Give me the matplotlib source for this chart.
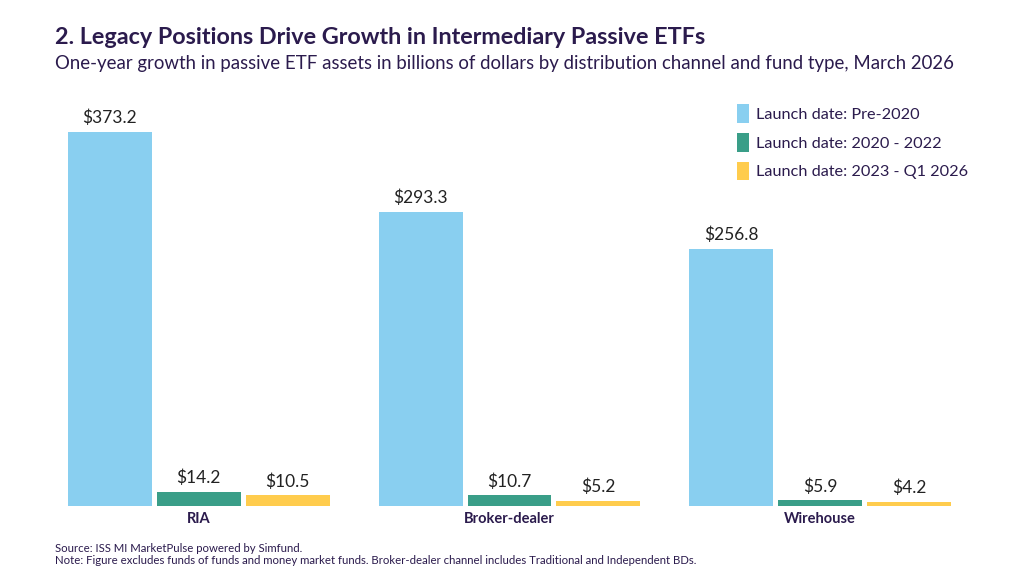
import numpy as np
import matplotlib.pyplot as plt
from matplotlib.patches import Patch

channels = ["RIA", "Broker-dealer", "Wirehouse"]
series_names = ["Launch date: Pre-2020", "Launch date: 2020 - 2022", "Launch date: 2023 - Q1 2026"]
pre_2020 = [373.2, 293.3, 256.8]
y2020_2022 = [14.2, 10.7, 5.9]
y2023_q1_2026 = [10.5, 5.2, 4.2]

colors = ["#89CFF0", "#3A9E88", "#FFCC4D"]
text_color = "#2B1B4D"

plt.rcParams['font.family'] = ['Lato', 'DejaVu Sans']

fig = plt.figure(figsize=(10.24, 5.76), dpi=100)
ax = fig.add_axes([43.5 / 1024, 70 / 576, 932 / 1024, 401 / 576])

x = np.arange(len(channels))
step = 89 / 311
width = 84 / 311
for i, (vals, c) in enumerate(zip([pre_2020, y2020_2022, y2023_q1_2026], colors)):
    pos = x + (i - 1) * step
    bars = ax.bar(pos, vals, width=width, color=c, zorder=2)
    for b, v in zip(bars, vals):
        ax.annotate(f"${v:.1f}", (b.get_x() + b.get_width() / 2, v),
                    xytext=(0, 4), textcoords="offset points",
                    ha="center", va="bottom", fontsize=12.5, color="#222222")

ax.set_xlim(-0.5, 2.5)
ax.set_ylim(0, 400)
ax.set_xticks(x)
ax.set_xticklabels(channels, fontsize=10.5, fontweight="bold", color=text_color)
ax.tick_params(axis="x", length=0, pad=4)
ax.set_yticks([])
for s in ["top", "right", "left", "bottom"]:
    ax.spines[s].set_visible(False)

handles = [Patch(facecolor=c, edgecolor="none") for c in colors]
leg = fig.legend(handles, series_names, loc="upper left", bbox_to_anchor=(730 / 1024, 1 - 98 / 576),
                 frameon=False, fontsize=11.7, handlelength=0.75, handleheight=1.4,
                 handletextpad=0.45, labelspacing=0.6, borderaxespad=0)
for t in leg.get_texts():
    t.set_color(text_color)

fig.text(55 / 1024, 1 - 37 / 576, "2. Legacy Positions Drive Growth in Intermediary Passive ETFs",
         fontsize=16.8, fontweight="bold", color=text_color, va="center", ha="left")
fig.text(55 / 1024, 1 - 64 / 576,
         "One-year growth in passive ETF assets in billions of dollars by distribution channel and fund type, March 2026",
         fontsize=13.4, color=text_color, va="center", ha="left")
fig.text(55 / 1024, 1 - 548 / 576, "Source: ISS MI MarketPulse powered by Simfund.",
         fontsize=8.2, color=text_color, va="center", ha="left")
fig.text(55 / 1024, 1 - 561 / 576,
         "Note: Figure excludes funds of funds and money market funds. Broker-dealer channel includes Traditional and Independent BDs.",
         fontsize=8.2, color=text_color, va="center", ha="left")

fig.savefig("out.png", dpi=100)
